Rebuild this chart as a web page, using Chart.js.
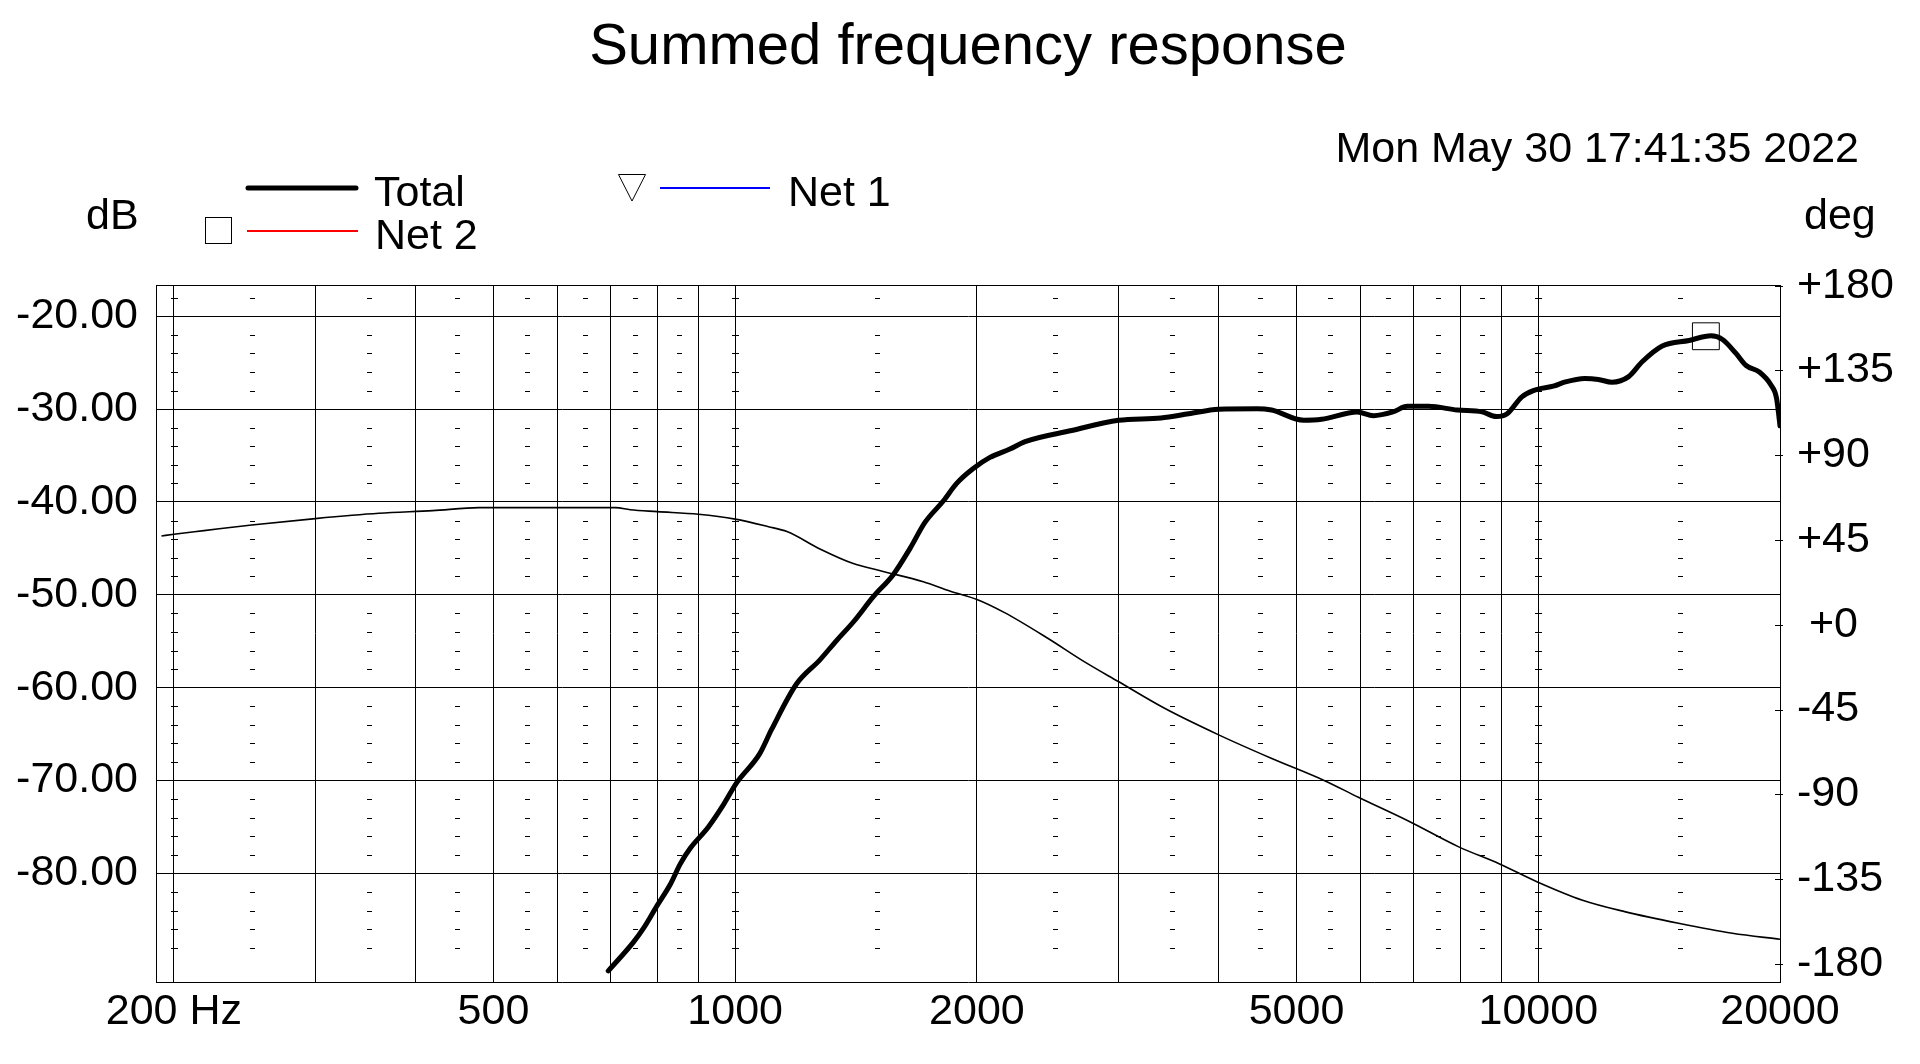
<!DOCTYPE html>
<html>
<head>
<meta charset="utf-8">
<script src="https://cdn.jsdelivr.net/npm/chart.js"></script>
<style>
  html, body { margin: 0; padding: 0; background: #fff; }
  #wrap { width: 1920px; height: 1064px; }
</style>
</head>
<body>
<div id="wrap"><canvas id="respChart" width="1920" height="1064"></canvas></div>
<script>
var ctx = document.querySelector('#respChart').getContext('2d');
const FONT = '"Liberation Sans", Arial, sans-serif';

// Total, magnitude (dB, left axis)
const totalFreq = [695, 747, 769, 799, 830, 854, 879, 926, 967, 1003, 1073, 1110, 1192, 1275, 1338, 1404, 1486, 1574, 1651, 1723, 1816, 1887, 1979, 2076, 2198, 2296, 2624, 3000, 3390, 3670, 4000, 4466, 4655, 5105, 5372, 5952, 6233, 6594, 6868, 7302, 7928, 8514, 8870, 9147, 9533, 9860, 10470, 10780, 11430, 11880, 12350, 12960, 13470, 14270, 15410, 16410, 16960, 17630, 18150, 18850, 19490, 19800, 20000];
const totalDb = [-90.5, -87.4, -85.9, -83.5, -81.2, -79.0, -77.3, -75.0, -72.6, -70.3, -67.1, -64.5, -59.6, -57.0, -54.9, -52.9, -50.2, -47.8, -45.0, -42.2, -39.9, -38.0, -36.4, -35.2, -34.3, -33.5, -32.3, -31.2, -30.95, -30.5, -30.0, -29.95, -30.1, -31.2, -31.1, -30.3, -30.7, -30.3, -29.7, -29.7, -30.1, -30.3, -30.8, -30.5, -28.7, -28.0, -27.5, -27.1, -26.7, -26.8, -27.1, -26.5, -24.9, -23.2, -22.6, -22.1, -22.5, -24.0, -25.3, -26.0, -27.4, -28.8, -31.8];

// Total, phase (deg, right axis)
const phaseFreq = [193, 200, 218, 250, 300, 360, 420, 480, 560, 710, 740, 800, 900, 1000, 1100, 1160, 1275, 1400, 1520, 1715, 1850, 2000, 2165, 2450, 2720, 3000, 3425, 4000, 4650, 5420, 5970, 6920, 7950, 8950, 9960, 11330, 12810, 14950, 17450, 20000];
const phaseDeg = [47.2, 48.1, 50.0, 53.0, 56.4, 59.2, 60.6, 62.2, 62.2, 62.2, 61.1, 60.1, 58.7, 56.1, 52.1, 49.5, 40.3, 32.7, 28.6, 22.9, 18.0, 13.5, 6.5, -7.1, -19.5, -30.1, -44.3, -58.4, -70.8, -82.7, -91.5, -104.5, -117.7, -126.9, -136.3, -146.0, -152.2, -158.4, -163.7, -166.9];

// marker on the Total curve
const markerFreq = [16170];
const markerDb = [-22.15];

// axes
const gridFreqs = [200, 300, 400, 500, 600, 700, 800, 900, 1000, 2000, 3000, 4000, 5000, 6000, 7000, 8000, 9000, 10000, 20000];
const labelFreqs = [200, 500, 1000, 2000, 5000, 10000, 20000];
const dbTicks = [-20, -30, -40, -50, -60, -70, -80];
const degTicks = [180, 135, 90, 45, 0, -45, -90, -135, -180];
const dashFreqs = [250, 350, 450, 550, 650, 750, 850, 1500, 2500, 3500, 4500, 5500, 6500, 7500, 8500, 15000];
const crossFreqs = [200, 1000, 10000];
const dashDb = [-18, -22, -24, -26, -28, -32, -34, -36, -38, -42, -44, -46, -48, -52, -54, -56, -58, -62, -64, -66, -68, -72, -74, -76, -78, -82, -84, -86, -88];

const legendNames = ['Total', 'Net 2', 'Net 1'];
const legendColors = ['#000000', '#ff0000', '#0000ff'];

const toXY = (xs, ys) => xs.map((v, i) => ({ x: v, y: ys[i] }));

const decor = {
  id: 'decor',
  beforeDatasetsDraw(chart) {
    const { ctx, chartArea: a, scales } = chart;
    ctx.save();
    ctx.strokeStyle = '#000';
    ctx.lineWidth = 1;
    ctx.beginPath();
    ctx.moveTo(a.left, Math.round(a.top) + 0.5);
    ctx.lineTo(a.right, Math.round(a.top) + 0.5);
    dashDb.forEach(d => {
      const py = Math.round(scales.y.getPixelForValue(d)) + 0.5;
      dashFreqs.forEach(f => {
        const px = Math.round(scales.x.getPixelForValue(f));
        ctx.moveTo(px - 2, py); ctx.lineTo(px + 3, py);
      });
      crossFreqs.forEach(f => {
        const px = Math.round(scales.x.getPixelForValue(f));
        ctx.moveTo(px - 3, py); ctx.lineTo(px + 4, py);
      });
    });
    degTicks.forEach(d => {
      const py = Math.round(scales.y1.getPixelForValue(d)) + 0.5;
      ctx.moveTo(a.right - 5, py); ctx.lineTo(a.right + 3, py);
    });
    ctx.stroke();
    ctx.restore();
  },
  afterDraw(chart) {
    const c = chart.ctx;
    c.save();
    c.fillStyle = '#000';
    c.textBaseline = 'alphabetic';
    c.font = '58px ' + FONT;
    c.textAlign = 'center';
    c.fillText('Summed frequency response', 968, 64);
    c.font = '43px ' + FONT;
    c.textAlign = 'right';
    c.fillText('Mon May 30 17:41:35 2022', 1859, 162);
    c.textAlign = 'left';
    c.fillText('dB', 86, 229);
    c.fillText('deg', 1804, 229);

    // legend
    c.lineCap = 'round';
    c.strokeStyle = legendColors[0];
    c.lineWidth = 5;
    c.beginPath(); c.moveTo(248, 188); c.lineTo(356, 188); c.stroke();
    c.lineCap = 'butt';
    c.lineWidth = 2;
    c.strokeStyle = legendColors[1];
    c.beginPath(); c.moveTo(247, 231); c.lineTo(358, 231); c.stroke();
    c.strokeStyle = legendColors[2];
    c.beginPath(); c.moveTo(660, 188); c.lineTo(770, 188); c.stroke();
    c.strokeStyle = '#000';
    c.lineWidth = 1;
    c.strokeRect(205.5, 217.5, 26, 26);
    c.beginPath(); c.moveTo(618.5, 174.5); c.lineTo(645.5, 174.5); c.lineTo(632, 201); c.closePath(); c.stroke();
    c.fillText(legendNames[0], 374, 206);
    c.fillText(legendNames[1], 375, 249);
    c.fillText(legendNames[2], 788, 206);
    c.restore();
  }
};

var chart = new Chart(ctx, {
  type: 'line',
  data: {
    datasets: [
      {
        label: 'Total',
        data: toXY(totalFreq, totalDb),
        yAxisID: 'y',
        borderColor: '#000',
        borderWidth: 5,
        borderJoinStyle: 'round',
        borderCapStyle: 'round',
        pointRadius: 0,
        cubicInterpolationMode: 'monotone',
      },
      {
        label: 'Total phase',
        data: toXY(phaseFreq, phaseDeg),
        yAxisID: 'y1',
        borderColor: '#000',
        borderWidth: 1.6,
        pointRadius: 0,
        cubicInterpolationMode: 'monotone',
      },
      {
        label: 'marker',
        data: toXY(markerFreq, markerDb),
        yAxisID: 'y',
        showLine: false,
        pointStyle: 'rect',
        pointRadius: 19,
        pointBorderWidth: 1,
        pointBorderColor: '#000',
        pointBackgroundColor: 'rgba(0,0,0,0)',
      },
    ],
  },
  options: {
    responsive: false,
    animation: false,
    devicePixelRatio: 1,
    layout: { padding: { top: 285, left: 0, right: 0, bottom: 0 } },
    plugins: {
      legend: { display: false },
      title: { display: false },
      tooltip: { enabled: false },
    },
    scales: {
      x: {
        type: 'logarithmic',
        min: 190,
        max: 20000,
        afterBuildTicks: s => { s.ticks = gridFreqs.map(v => ({ value: v })); },
        afterFit: s => { s.height = 82; },
        ticks: {
          autoSkip: false,
          maxRotation: 0,
          minRotation: 0,
          padding: 4,
          color: '#000',
          font: { family: FONT, size: 43 },
          callback: v => labelFreqs.includes(v) ? (v === 200 ? '200 Hz' : String(v)) : '',
        },
        grid: { color: '#000', lineWidth: 1, drawTicks: false },
        border: { color: '#000', width: 1 },
      },
      y: {
        position: 'left',
        min: -91.7,
        max: -16.63,
        afterBuildTicks: s => { s.ticks = dbTicks.map(v => ({ value: v })); },
        afterFit: s => { s.width = 156; },
        ticks: {
          padding: 18,
          color: '#000',
          font: { family: FONT, size: 43 },
          callback: v => v.toFixed(2),
        },
        grid: { color: '#000', lineWidth: 1, drawTicks: false },
        border: { color: '#000', width: 1 },
      },
      y1: {
        position: 'right',
        min: -189.55,
        max: 180.37,
        afterBuildTicks: s => { s.ticks = degTicks.map(v => ({ value: v })); },
        afterFit: s => { s.width = 140; },
        ticks: {
          padding: 17,
          color: '#000',
          font: { family: FONT, size: 43 },
          callback: v => v > 0 ? '+' + v : (v === 0 ? ' +0' : String(v)),
        },
        grid: { display: false, drawTicks: false },
        border: { display: true, color: '#000', width: 1 },
      },
    },
  },
  plugins: [decor],
});
</script>
</body>
</html>
